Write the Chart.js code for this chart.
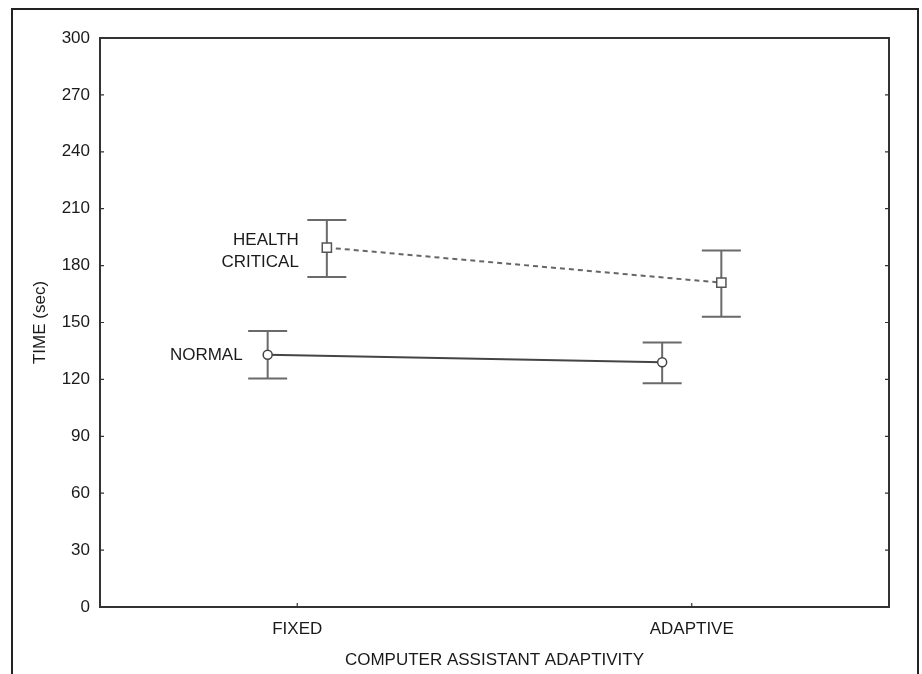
<!DOCTYPE html>
<html>
<head>
<meta charset="utf-8">
<title>Time by computer assistant adaptivity</title>
<script src="https://cdn.jsdelivr.net/npm/chart.js@4.4.1/dist/chart.umd.min.js"></script>
<style>
  html, body { margin: 0; padding: 0; background: #fff; }
  #wrap { width: 922px; height: 674px; position: relative; }
</style>
</head>
<body>
<div id="wrap"><canvas id="timeChart" width="922" height="674"></canvas></div>
<script>
// values
const categories = ["FIXED", "ADAPTIVE"];
const yTicks = [0, 30, 60, 90, 120, 150, 180, 210, 240, 270, 300];

const normalMean = [133, 129];
const normalLow = [120.5, 118];
const normalHigh = [145.5, 139.5];

const healthMean = [189.5, 171];
const healthLow = [174, 153];
const healthHigh = [204, 188];

const seriesNames = [["NORMAL"], ["HEALTH", "CRITICAL"]];

const dodge = 0.075; // horizontal shift of the two groups
const font = "'Liberation Sans', Arial, sans-serif";
const ink = "#333";
const textInk = "#1a1a1a";

const toPoints = (vals, shift) => vals.map((v, i) => ({ x: i + shift, y: v }));

// error bars + frame + inward ticks + series labels
const extras = {
  id: "extras",
  beforeDraw(chart) {
    const ctx = chart.ctx;
    ctx.save();
    ctx.fillStyle = "#fff";
    ctx.fillRect(0, 0, chart.width, chart.height);
    ctx.strokeStyle = "#222";
    ctx.lineWidth = 2;
    ctx.strokeRect(12, 9, 906, 720);
    ctx.restore();
  },
  beforeDatasetsDraw(chart) {
    const ctx = chart.ctx;
    const xs = chart.scales.x, ys = chart.scales.y;
    ctx.save();
    // error bars
    ctx.strokeStyle = "#6a6a6a";
    ctx.lineWidth = 2;
    const bars = [
      [-dodge, normalLow, normalHigh],
      [dodge, healthLow, healthHigh],
    ];
    bars.forEach(([shift, lo, hi]) => {
      lo.forEach((l, i) => {
        const x = xs.getPixelForValue(i + shift);
        const y1 = ys.getPixelForValue(l);
        const y2 = ys.getPixelForValue(hi[i]);
        ctx.beginPath();
        ctx.moveTo(x, y1); ctx.lineTo(x, y2);
        ctx.moveTo(x - 19.5, y1); ctx.lineTo(x + 19.5, y1);
        ctx.moveTo(x - 19.5, y2); ctx.lineTo(x + 19.5, y2);
        ctx.stroke();
      });
    });
    ctx.restore();
  },
  afterDatasetsDraw(chart) {
    const ctx = chart.ctx;
    const { left, right, top, bottom } = chart.chartArea;
    const xs = chart.scales.x, ys = chart.scales.y;
    ctx.save();

    // plot frame
    ctx.strokeStyle = ink;
    ctx.lineWidth = 2;
    ctx.strokeRect(left, top, right - left, bottom - top);

    // inward tick marks
    ctx.lineWidth = 1.2;
    ys.ticks.forEach(t => {
      const y = ys.getPixelForValue(t.value);
      ctx.beginPath();
      ctx.moveTo(left, y); ctx.lineTo(left + 4, y);
      ctx.moveTo(right, y); ctx.lineTo(right - 4, y);
      ctx.stroke();
    });
    xs.ticks.forEach(t => {
      const x = xs.getPixelForValue(t.value);
      ctx.beginPath();
      ctx.moveTo(x, bottom); ctx.lineTo(x, bottom - 4);
      ctx.stroke();
    });

    // series names beside the FIXED points
    ctx.fillStyle = textInk;
    ctx.font = "17px " + font;
    ctx.textAlign = "right";
    ctx.textBaseline = "middle";
    const nx = xs.getPixelForValue(0 - dodge) - 25;
    const ny = ys.getPixelForValue(normalMean[0]);
    ctx.fillText(seriesNames[0][0], nx, ny + 1);
    const hx = xs.getPixelForValue(0 + dodge) - 28;
    const hy = ys.getPixelForValue(healthMean[0]);
    ctx.fillText(seriesNames[1][0], hx, hy - 7);
    ctx.fillText(seriesNames[1][1], hx, hy + 15);
    ctx.restore();
  },
};

const chart = new Chart(document.getElementById("timeChart").getContext("2d"), {
  type: "line",
  data: {
    datasets: [
      {
        label: "NORMAL",
        data: toPoints(normalMean, -dodge),
        borderColor: "#444",
        borderWidth: 2,
        pointStyle: "circle",
        pointRadius: 4.5,
        pointBackgroundColor: "#fff",
        pointBorderColor: "#444",
        pointBorderWidth: 1.5,
      },
      {
        label: "HEALTH CRITICAL",
        data: toPoints(healthMean, dodge),
        borderColor: "#666",
        borderWidth: 2,
        borderDash: [5, 4],
        pointStyle: "rect",
        pointRadius: 6.5,
        pointBackgroundColor: "#fff",
        pointBorderColor: "#555",
        pointBorderWidth: 1.5,
      },
    ],
  },
  options: {
    responsive: false,
    animation: false,
    events: [],
    layout: { padding: { left: 0, top: 38, right: 33, bottom: 0 } },
    plugins: { legend: { display: false }, tooltip: { enabled: false } },
    scales: {
      x: {
        type: "linear",
        min: -0.5,
        max: 1.5,
        grid: { display: false },
        border: { display: false },
        afterBuildTicks: (scale) => {
          scale.ticks = categories.map((c, i) => ({ value: i }));
        },
        afterFit: (scale) => { scale.height = 67; },
        ticks: {
          padding: 4,
          color: textInk,
          font: { family: font, size: 17 },
          callback: (v) => categories[v],
        },
        title: {
          display: true,
          text: "COMPUTER ASSISTANT ADAPTIVITY",
          color: textInk,
          font: { family: font, size: 17 },
          padding: { top: 4, bottom: 3 },
        },
      },
      y: {
        min: 0,
        max: 300,
        grid: { display: false },
        border: { display: false },
        afterBuildTicks: (scale) => {
          scale.ticks = yTicks.map((v) => ({ value: v }));
        },
        afterFit: (scale) => { scale.width = 100; },
        ticks: {
          padding: 2,
          color: textInk,
          font: { family: font, size: 17 },
        },
        title: {
          display: true,
          text: "TIME (sec)",
          color: textInk,
          font: { family: font, size: 17 },
          padding: { top: 30, bottom: 0 },
        },
      },
    },
  },
  plugins: [extras],
});
</script>
</body>
</html>
